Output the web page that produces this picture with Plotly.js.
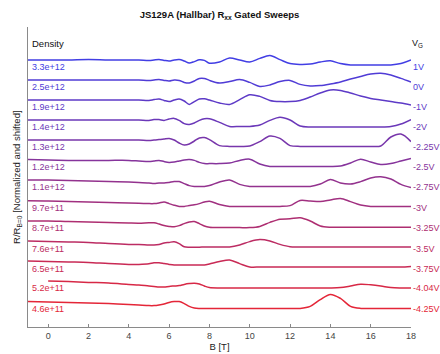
<!DOCTYPE html>
<html>
<head>
<meta charset="utf-8">
<script src="https://cdn.plot.ly/plotly-3.0.1.min.js"></script>
<style>
  html, body { margin: 0; padding: 0; background: #fff; }
  #chart { width: 440px; height: 354px; }
</style>
</head>
<body>
<div id="chart"></div>
<script>
// Magnetic field grid [T]
const fieldB = [-1, 0, 1, 2, 3, 4, 4.5, 5, 5.25, 5.5, 5.75, 6, 6.25, 6.5, 6.75, 7, 7.25, 7.5, 7.75, 8,
                8.5, 9, 9.5, 10, 10.5, 11, 11.5, 12, 12.5, 13, 13.5, 14, 14.5, 15, 15.5, 16, 16.5, 17, 17.5, 18];

// Carrier densities (left labels) and gate voltages (right labels), top to bottom
const densityLabels = ["3.3e+12", "2.5e+12", "1.9e+12", "1.4e+12", "1.3e+12", "1.2e+12", "1.1e+12",
                       "9.7e+11", "8.7e+11", "7.6e+11", "6.5e+11", "5.2e+11", "4.6e+11"];
const gateLabels = ["1V", "0V", "-1V", "-2V", "-2.25V", "-2.5V", "-2.75V",
                    "-3V", "-3.25V", "-3.5V", "-3.75V", "-4.04V", "-4.25V"];

// R/R(B=0), normalized and shifted
const sweep1V = [12.10, 12.10, 12.10, 12.12, 12.10, 12.10, 12.10, 12.08, 12.10, 12.12, 12.08, 12.05, 12.10, 12.12, 12.05, 11.95, 12.02, 12.11, 12.08, 11.94,
                 12.00, 12.20, 12.10, 12.00, 12.18, 12.32, 12.12, 11.92, 11.88, 11.90, 12.00, 12.06, 11.92, 11.85, 11.85, 11.85, 11.85, 11.85, 11.92, 12.10];
const sweep0V = [11.10, 11.10, 11.10, 11.10, 11.10, 11.10, 11.10, 11.08, 11.10, 11.12, 11.08, 11.05, 11.10, 11.08, 10.98, 10.95, 11.05, 11.18, 11.18, 11.08,
                 10.95, 11.02, 11.12, 10.98, 10.78, 10.85, 11.02, 11.08, 10.88, 10.80, 10.82, 10.90, 11.00, 11.15, 11.28, 11.40, 11.44, 11.35, 11.18, 11.00];
const sweepM1V = [10.10, 10.10, 10.10, 10.10, 10.10, 10.10, 10.10, 10.08, 10.12, 10.15, 10.08, 10.02, 10.10, 10.15, 10.05, 9.88, 10.02, 10.15, 10.16, 10.10,
                  9.95, 9.88, 10.12, 10.36, 10.28, 10.08, 10.02, 10.02, 10.08, 10.25, 10.45, 10.60, 10.58, 10.45, 10.30, 10.18, 10.10, 10.02, 9.95, 9.85];
const sweepM2V = [9.10, 9.10, 9.10, 9.10, 9.10, 9.10, 9.10, 9.08, 9.12, 9.12, 9.08, 9.15, 9.18, 9.08, 8.92, 8.88, 8.95, 9.08, 9.16, 9.16,
                  8.98, 8.78, 8.78, 8.78, 8.85, 9.08, 9.24, 9.10, 8.80, 8.75, 8.75, 8.75, 8.75, 8.75, 8.75, 8.75, 8.75, 8.78, 8.90, 9.12];
const sweepM225V = [8.10, 8.10, 8.10, 8.10, 8.10, 8.10, 8.10, 8.08, 8.10, 8.12, 8.15, 8.18, 8.10, 7.95, 7.85, 7.90, 8.05, 8.20, 8.22, 8.12,
                    7.82, 7.78, 7.78, 7.80, 8.02, 8.30, 8.18, 7.82, 7.78, 7.78, 7.78, 7.78, 7.78, 7.78, 7.78, 7.78, 7.80, 8.25, 8.40, 8.02];
const sweepM25V = [7.12, 7.10, 7.08, 7.08, 7.08, 7.08, 7.05, 7.02, 7.05, 7.08, 7.02, 6.98, 7.00, 7.05, 7.10, 7.12, 7.08, 6.98, 6.92, 6.92,
                   6.92, 6.95, 7.08, 7.14, 6.90, 6.78, 6.78, 6.78, 6.78, 6.78, 6.78, 6.78, 6.80, 6.95, 7.14, 7.00, 6.88, 6.92, 7.05, 7.18];
const sweepM275V = [6.10, 6.10, 6.08, 6.05, 6.02, 6.00, 5.98, 5.95, 5.92, 5.95, 5.95, 5.98, 6.02, 6.02, 5.92, 5.82, 5.78, 5.78, 5.78, 5.82,
                    6.00, 6.10, 5.88, 5.78, 5.78, 5.78, 5.78, 5.78, 5.78, 5.78, 5.90, 6.12, 5.95, 5.90, 6.02, 6.20, 6.26, 6.15, 5.88, 5.72];
const sweepM3V = [5.06, 5.05, 5.02, 5.00, 4.98, 4.95, 4.94, 4.92, 4.92, 4.95, 5.00, 4.92, 4.84, 4.78, 4.78, 4.82, 4.86, 4.92, 5.00, 5.04,
                  4.88, 4.78, 4.78, 4.78, 4.78, 4.78, 4.78, 4.82, 5.08, 5.05, 5.02, 5.10, 5.18, 5.02, 4.85, 4.78, 4.78, 4.78, 4.78, 4.78];
const sweepM325V = [4.05, 4.05, 4.02, 4.00, 3.98, 3.95, 3.94, 3.96, 3.96, 3.90, 3.82, 3.78, 3.76, 3.82, 3.92, 4.00, 4.02, 3.92, 3.80, 3.74,
                    3.72, 3.72, 3.72, 3.72, 3.78, 3.98, 4.14, 4.16, 4.21, 4.05, 3.80, 3.74, 3.74, 3.74, 3.74, 3.74, 3.74, 3.74, 3.74, 3.74];
const sweepM35V = [3.05, 3.02, 3.00, 2.98, 2.92, 2.88, 2.88, 2.85, 2.85, 2.88, 2.95, 2.98, 3.01, 2.92, 2.76, 2.74, 2.74, 2.74, 2.75, 2.75,
                   2.75, 2.75, 2.85, 3.02, 3.12, 3.05, 2.88, 2.76, 2.75, 2.75, 2.75, 2.75, 2.75, 2.75, 2.75, 2.75, 2.75, 2.75, 2.75, 2.75];
const sweepM375V = [2.05, 2.02, 2.00, 1.98, 1.92, 1.88, 1.88, 1.91, 1.96, 1.96, 1.92, 1.88, 1.85, 1.85, 1.85, 1.85, 1.85, 1.85, 1.85, 1.90,
                    2.02, 2.10, 1.92, 1.75, 1.75, 1.75, 1.75, 1.75, 1.75, 1.75, 1.75, 1.75, 1.75, 1.75, 1.75, 1.75, 1.75, 1.75, 1.75, 1.78];
const sweepM404V = [null, 1.05, 1.02, 0.98, 0.95, 0.88, 0.85, 0.80, 0.78, 0.75, 0.75, 0.78, 0.80, 0.82, 0.88, 0.92, 0.94, 0.90, 0.80, 0.72,
                    0.70, 0.70, 0.70, 0.70, 0.70, 0.70, 0.70, 0.70, 0.70, 0.70, 0.70, 0.70, 0.72, 0.80, 0.89, 0.86, 0.80, 0.72, 0.70, 0.70];
const sweepM425V = [0.02, 0.00, -0.02, -0.05, -0.08, -0.12, -0.15, -0.18, -0.18, -0.15, -0.10, -0.02, 0.02, 0.02, -0.08, -0.22, -0.30, -0.32, -0.32, -0.32,
                    -0.32, -0.32, -0.32, -0.32, -0.32, -0.32, -0.32, -0.32, -0.32, -0.22, 0.12, 0.38, 0.18, -0.22, -0.32, -0.32, -0.32, -0.32, -0.32, -0.32];

const sweeps = [sweep1V, sweep0V, sweepM1V, sweepM2V, sweepM225V, sweepM25V, sweepM275V,
                sweepM3V, sweepM325V, sweepM35V, sweepM375V, sweepM404V, sweepM425V];

// colour ramp blue -> red
const cTop = [66, 62, 228], cBot = [228, 38, 56];
function colorAt(i, n) {
  const t = i / (n - 1);
  const c = cTop.map((v, j) => Math.round(v + (cBot[j] - v) * t));
  return `rgb(${c[0]},${c[1]},${c[2]})`;
}

const FONT = "Liberation Sans, Arial, Helvetica, sans-serif";
const traces = [];
const annotations = [];
sweeps.forEach((ys, i) => {
  const col = colorAt(i, sweeps.length);
  traces.push({
    x: fieldB, y: ys, type: 'scatter', mode: 'lines',
    line: { color: col, width: 1.5, shape: 'spline', smoothing: 0.9 },
    connectgaps: false, hoverinfo: 'skip', showlegend: false
  });
  const base = ys[1];
  annotations.push({
    x: -0.9, y: base - 0.36, xref: 'x', yref: 'y', text: densityLabels[i],
    showarrow: false, xanchor: 'left', yanchor: 'middle',
    font: { family: FONT, size: 9, color: col }
  });
  annotations.push({
    x: 18, y: base - 0.36, xref: 'x', yref: 'y', text: gateLabels[i],
    showarrow: false, xanchor: 'left', yanchor: 'middle',
    font: { family: FONT, size: 9, color: col }
  });
});
annotations.push({
  x: -0.9, y: 12.95, xref: 'x', yref: 'y', text: 'Density', showarrow: false,
  xanchor: 'left', yanchor: 'middle', font: { family: FONT, size: 9.5, color: '#111' }
});
annotations.push({
  x: 17.95, y: 12.95, xref: 'x', yref: 'y', text: 'V<sub>G</sub>', showarrow: false,
  xanchor: 'left', yanchor: 'middle', font: { family: FONT, size: 9, color: '#111' }
});
// y-axis title, placed as rotated text left of the axis line
annotations.push({
  x: -0.029, y: 0.5, xref: 'paper', yref: 'paper', textangle: -90,
  text: 'R/R<sub>B=0</sub> [Normalized and shifted]', showarrow: false,
  xanchor: 'center', yanchor: 'middle', font: { family: FONT, size: 9.5, color: '#222' }
});

const layout = {
  width: 440, height: 354,
  margin: { l: 28, r: 29, t: 27, b: 27, pad: 0 },
  paper_bgcolor: '#fff', plot_bgcolor: '#fff',
  font: { family: FONT, size: 9, color: '#333' },
  title: {
    text: '<b>JS129A (Hallbar) R<sub>xx</sub> Gated Sweeps</b>',
    x: 0.5, xref: 'paper', xanchor: 'center',
    y: 0.958, yref: 'container', yanchor: 'middle',
    font: { family: FONT, size: 9.5, color: '#111' }
  },
  xaxis: {
    range: [-1, 18], tick0: 0, dtick: 2, ticks: 'inside', ticklen: 3, tickcolor: '#888',
    showline: true, linecolor: '#8a8a8a', linewidth: 1, showgrid: false, zeroline: false,
    tickfont: { family: FONT, size: 9, color: '#444' },
    title: { text: 'B [T]', standoff: 2, font: { family: FONT, size: 9.5, color: '#222' } }
  },
  yaxis: {
    range: [-1.25, 13.75], showticklabels: false, ticks: '', showline: true,
    linecolor: '#8a8a8a', linewidth: 1, showgrid: false, zeroline: false
  },
  annotations: annotations
};

Plotly.newPlot('chart', traces, layout, { staticPlot: true, displayModeBar: false });
</script>
</body>
</html>
